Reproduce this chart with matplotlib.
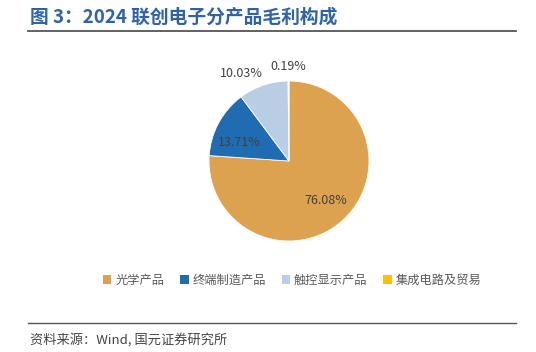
import numpy as np
import matplotlib.pyplot as plt
from matplotlib.patches import Patch
from matplotlib.lines import Line2D

plt.rcParams['font.family'] = ['Noto Sans CJK SC', 'DejaVu Sans']

# data
categories = ['光学产品', '终端制造产品', '触控显示产品', '集成电路及贸易']
shares = [76.08, 13.71, 10.03, 0.19]
colors = ['#DDA24F', '#1F6CB3', '#B9CDE5', '#FFC000']

W, H = 536, 352
fig = plt.figure(figsize=(W / 100, H / 100), dpi=100)

# title + rules
fig.text(30 / W, 1 - 17 / H, '图 3：2024 联创电子分产品毛利构成', fontsize=13.5,
         fontweight='bold', color='#2F62A8', va='center', ha='left')
fig.add_artist(Line2D([28 / W, 516 / W], [1 - 31 / H, 1 - 31 / H], color='#555555', lw=1.3))
fig.add_artist(Line2D([28 / W, 516 / W], [1 - 323 / H, 1 - 323 / H], color='#555555', lw=1.0))
fig.text(30 / W, 1 - 340 / H, '资料来源：Wind, 国元证券研究所', fontsize=9.5,
         color='#444444', va='center', ha='left')

# pie
cx, cy, r = 289, 161, 80
ax = fig.add_axes([(cx - r) / W, 1 - (cy + r) / H, 2 * r / W, 2 * r / H])
wedges, _ = ax.pie(shares, colors=colors, startangle=90, counterclock=False,
                   radius=1, wedgeprops=dict(linewidth=0.6, edgecolor='white'))
ax.set_xlim(-1, 1)
ax.set_ylim(-1, 1)
ax.set_aspect('equal')
ax.axis('off')

label_r = [0.67, 0.66, 1.25, 1.18]
label_shift = [0, 8, 10, 0]  # degrees, to mimic the original label placement
for w, v, lr, sh in zip(wedges, shares, label_r, label_shift):
    ang = np.deg2rad((w.theta1 + w.theta2) / 2 + sh)
    ax.text(lr * np.cos(ang), lr * np.sin(ang), f'{v:.2f}%', ha='center', va='center',
            fontsize=9, color='#404040', clip_on=False)

handles = [Patch(facecolor=c, edgecolor='none') for c in colors]
fig.legend(handles, categories, loc='center', bbox_to_anchor=(292 / W, 1 - 280 / H),
           ncol=4, frameon=False, fontsize=8.8, labelcolor='#595959',
           handlelength=0.7, handleheight=0.7, handletextpad=0.3, columnspacing=1.3)

fig.savefig('out.png', dpi=100)
